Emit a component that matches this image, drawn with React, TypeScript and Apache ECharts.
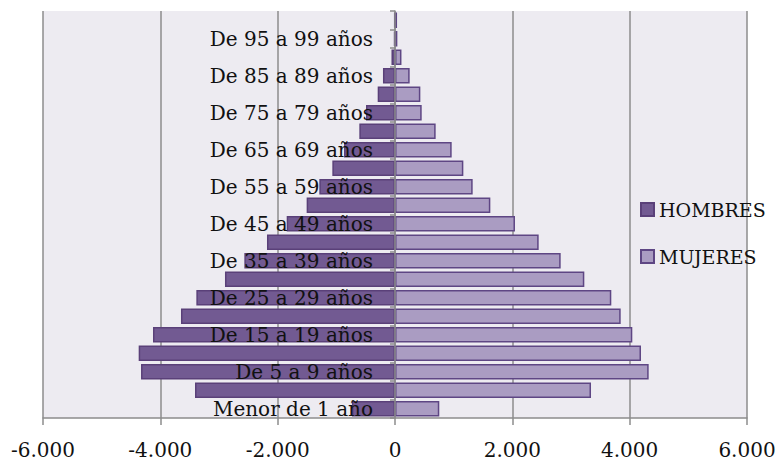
import React, { useEffect, useRef } from "react";
import * as echarts from "echarts";

const categories = [
  "Menor de 1 año",
  "De 1 a 4 años",
  "De 5 a 9 años",
  "De 10 a 14 años",
  "De 15 a 19 años",
  "De 20 a 24 años",
  "De 25 a 29 años",
  "De 30 a 34 años",
  "De 35 a 39 años",
  "De 40 a 44 años",
  "De 45 a 49 años",
  "De 50 a 54 años",
  "De 55 a 59 años",
  "De 60 a 64 años",
  "De 65 a 69 años",
  "De 70 a 74 años",
  "De 75 a 79 años",
  "De 80 a 84 años",
  "De 85 a 89 años",
  "De 90 a 94 años",
  "De 95 a 99 años",
  "De 100 y más años",
];

const hombres = [
  -733, -3409, -4329, -4369, -4125, -3648, -3386, -2898, -2568, -2182, -1846,
  -1506, -1290, -1068, -869, -608, -494, -295, -205, -60, -15, -10,
];

const mujeres = [
  755, 3341, 4324, 4193, 4045, 3847, 3687, 3227, 2824, 2449, 2045, 1625, 1324,
  1165, 966, 693, 455, 432, 250, 110, 40, 35,
];

const xMin = -6000;
const xMax = 6000;
const xInterval = 2000;

const FONT = "DejaVu Serif";

function fmt(v: number): string {
  const s = Math.abs(v)
    .toString()
    .replace(/\B(?=(\d{3})+(?!\d))/g, ".");
  return (v < 0 ? "-" : "") + s;
}

export default function App() {
  const ref = useRef<HTMLDivElement>(null);

  useEffect(() => {
    if (!ref.current) return;
    const chart = echarts.init(ref.current, undefined, { renderer: "svg" });
    const gridLeft = 43;
    const gridRight = 32;
    const plotW = 779 - gridLeft - gridRight;
    const zeroOffset = (plotW * (0 - xMin)) / (xMax - xMin);
    chart.setOption({
      animation: false,
      backgroundColor: "#ffffff",
      grid: {
        left: gridLeft,
        right: gridRight,
        top: 11,
        bottom: 46,
        show: true,
        backgroundColor: "#EDEBF1",
        borderWidth: 0,
        containLabel: false,
        outerBoundsMode: "none",
      },
      legend: {
        orient: "vertical",
        left: 635,
        top: 195,
        itemWidth: 13,
        itemHeight: 13,
        itemGap: 28,
        icon: "rect",
        textStyle: { fontFamily: FONT, fontSize: 19, color: "#111" },
        data: ["HOMBRES", "MUJERES"],
      },
      xAxis: {
        type: "value",
        min: xMin,
        max: xMax,
        interval: xInterval,
        axisLine: { show: true, onZero: false, lineStyle: { color: "#8c8c8c", width: 1.5 } },
        axisTick: { show: true, length: 7, lineStyle: { color: "#8c8c8c", width: 1.5 } },
        axisLabel: {
          fontFamily: FONT,
          fontSize: 20,
          color: "#111",
          margin: 22,
          formatter: (v: number) => fmt(v),
        },
        splitLine: { show: true, lineStyle: { color: "#8c8c8c", width: 1.5 } },
      },
      yAxis: {
        type: "category",
        data: categories,
        z: 10,
        offset: -zeroOffset,
        axisLine: { show: true, onZero: false, lineStyle: { color: "#8c8c8c", width: 1.5 } },
        axisTick: { show: true, interval: 0, length: 5, lineStyle: { color: "#8c8c8c", width: 1.5 } },
        axisLabel: {
          interval: 1,
          fontFamily: FONT,
          fontSize: 20,
          color: "#111",
          margin: 22,
        },
        splitLine: { show: false },
      },
      series: [
        {
          name: "HOMBRES",
          type: "bar",
          data: hombres,
          barGap: "-100%",
          barCategoryGap: "16%",
          itemStyle: { color: "#725A92", borderColor: "#5A4079", borderWidth: 1.5 },
        },
        {
          name: "MUJERES",
          type: "bar",
          data: mujeres,
          barGap: "-100%",
          barCategoryGap: "16%",
          itemStyle: { color: "#AA9CC2", borderColor: "#5E4684", borderWidth: 1.5 },
        },
      ],
    });
    return () => chart.dispose();
  }, []);

  return (
    <div
      ref={ref}
      style={{ position: "fixed", left: 0, top: 0, width: 779, height: 464 }}
    />
  );
}
